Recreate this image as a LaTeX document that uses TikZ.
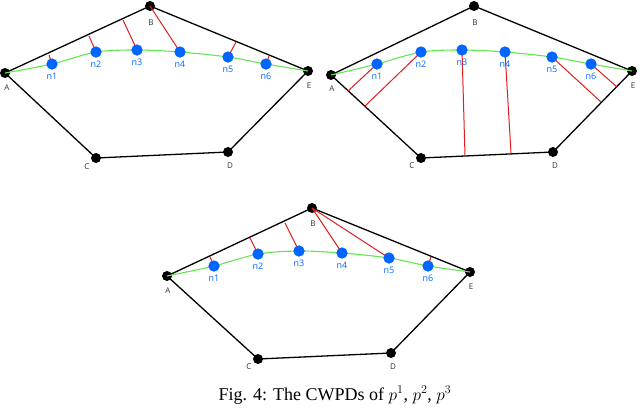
\documentclass[tikz,border=0pt]{standalone}
\usepackage{fontspec}
\setmainfont{Liberation Serif}
\newfontfamily\labfont{Open Sans}
\definecolor{nblue}{RGB}{0,102,255}
\definecolor{pgreen}{RGB}{100,230,80}
\definecolor{dred}{RGB}{225,30,30}
\begin{document}
\begin{tikzpicture}[x=1pt,y=-1pt,
  v/.style={circle,fill=black,inner sep=0pt,minimum size=10pt},
  n/.style={circle,fill=nblue,inner sep=0pt,minimum size=11pt},
  vl/.style={font=\labfont\fontsize{8}{9}\selectfont,text=black!80},
  nl/.style={font=\labfont\fontsize{9}{10}\selectfont,text=nblue,below=0pt},
  edge/.style={black,line width=1.3pt},
  path/.style={pgreen,line width=1.1pt},
  red/.style={dred,line width=1pt}]
\useasboundingbox (0,0) rectangle (640,410);
% ---------- panel 1
\node[v] (a1) at (5,73) {}; \node[v] (b1) at (150,6) {}; \node[v] (c1) at (96,158) {};
\node[v] (d1) at (228,152) {}; \node[v] (e1) at (308,71) {};
\draw[edge] (a1.center)--(b1.center)--(e1.center)--(d1.center)--(c1.center)--cycle;
\coordinate (p11) at (49,55); \coordinate (p12) at (89,36); \coordinate (p13) at (123,20);
\coordinate (p15) at (236,42); \coordinate (p16) at (269,56);
\draw[path] plot[smooth,tension=0.5] coordinates {(5,73) (52,64) (96,52) (137,50) (180,52) (228,57) (266,64) (308,71)};
\node[n] (n11) at (52,64) {}; \node[n] (n12) at (96,52) {}; \node[n] (n13) at (137,50) {};
\node[n] (n14) at (180,52) {}; \node[n] (n15) at (228,57) {}; \node[n] (n16) at (266,64) {};
\draw[red] (n11.center)--(p11) (n12.center)--(p12) (n13.center)--(p13) (n14.center)--(b1.center) (n15.center)--(p15) (n16.center)--(p16);
\foreach \i in {1,...,6}{\node[n] at (n1\i) {};}
\node[nl] (l11) at (n11.south) {n1}; \node[nl] (l12) at (n12.south) {n2};
\node[nl] (l13) at (n13.south) {n3}; \node[nl] (l14) at (n14.south) {n4};
\node[nl] (l15) at (n15.south) {n5}; \node[nl] (l16) at (n16.south) {n6};
\node[vl] (ta1) at (7,88) {A}; \node[vl] (tb1) at (151,23) {B}; \node[vl] (tc1) at (87,167) {C};
\node[vl] (td1) at (230,166) {D}; \node[vl] (te1) at (309,86) {E};
% ---------- panel 2
\node[v] (a2) at (331,75) {}; \node[v] (b2) at (474,6) {}; \node[v] (c2) at (421,158) {};
\node[v] (d2) at (553,152) {}; \node[v] (e2) at (632,71) {};
\draw[edge] (a2.center)--(b2.center)--(e2.center)--(d2.center)--(c2.center)--cycle;
\coordinate (p21) at (348,91); \coordinate (p22) at (364,107); \coordinate (p23) at (465,156);
\coordinate (p24) at (511,153); \coordinate (p25) at (601,102); \coordinate (p26) at (617,87);
\draw[path] plot[smooth,tension=0.5] coordinates {(331,75) (377,64) (421,52) (462,50) (505,52) (552,57) (591,64) (632,71)};
\node[n] (n21) at (377,64) {}; \node[n] (n22) at (421,52) {}; \node[n] (n23) at (462,50) {};
\node[n] (n24) at (505,52) {}; \node[n] (n25) at (552,57) {}; \node[n] (n26) at (591,64) {};
\draw[red] (n21.center)--(p21) (n22.center)--(p22) (n23.center)--(p23) (n24.center)--(p24) (n25.center)--(p25) (n26.center)--(p26);
\foreach \i in {1,...,6}{\node[n] at (n2\i) {};}
\node[nl] (l21) at (n21.south) {n1}; \node[nl] (l22) at (n22.south) {n2};
\node[nl] (l23) at (n23.south) {n3}; \node[nl] (l24) at (n24.south) {n4};
\node[nl] (l25) at (n25.south) {n5}; \node[nl] (l26) at (n26.south) {n6};
\node[vl] (ta2) at (332,89) {A}; \node[vl] (tb2) at (475,23) {B}; \node[vl] (tc2) at (412,166) {C};
\node[vl] (td2) at (555,166) {D}; \node[vl] (te2) at (633,86) {E};
% ---------- panel 3
\node[v] (a3) at (167,276) {}; \node[v] (b3) at (312,208) {}; \node[v] (c3) at (258,359) {};
\node[v] (d3) at (391,353) {}; \node[v] (e3) at (470,272) {};
\draw[edge] (a3.center)--(b3.center)--(e3.center)--(d3.center)--(c3.center)--cycle;
\coordinate (p31) at (210,257); \coordinate (p32) at (250,238); \coordinate (p33) at (285,223);
\coordinate (p36) at (431,257);
\draw[path] plot[smooth,tension=0.5] coordinates {(167,276) (214,266) (258,254) (299,251) (342,253) (389,258) (428,266) (470,272)};
\node[n] (n31) at (214,266) {}; \node[n] (n32) at (258,254) {}; \node[n] (n33) at (299,251) {};
\node[n] (n34) at (342,253) {}; \node[n] (n35) at (389,258) {}; \node[n] (n36) at (428,266) {};
\draw[red] (n31.center)--(p31) (n32.center)--(p32) (n33.center)--(p33) (n34.center)--(b3.center) (n35.center)--(b3.center) (n36.center)--(p36);
\foreach \i in {1,...,6}{\node[n] at (n3\i) {};}
\node[nl] (l31) at (n31.south) {n1}; \node[nl] (l32) at (n32.south) {n2};
\node[nl] (l33) at (n33.south) {n3}; \node[nl] (l34) at (n34.south) {n4};
\node[nl] (l35) at (n35.south) {n5}; \node[nl] (l36) at (n36.south) {n6};
\node[vl] (ta3) at (168,291) {A}; \node[vl] (tb3) at (313,224) {B}; \node[vl] (tc3) at (249,367) {C};
\node[vl] (td3) at (393,367) {D}; \node[vl] (te3) at (471,287) {E};
% caption
\node[font=\fontsize{18}{21}\selectfont] (cap) at (335,395) {Fig. 4: The CWPDs of $p^1$, $p^2$, $p^3$};
\end{tikzpicture}
\end{document}
